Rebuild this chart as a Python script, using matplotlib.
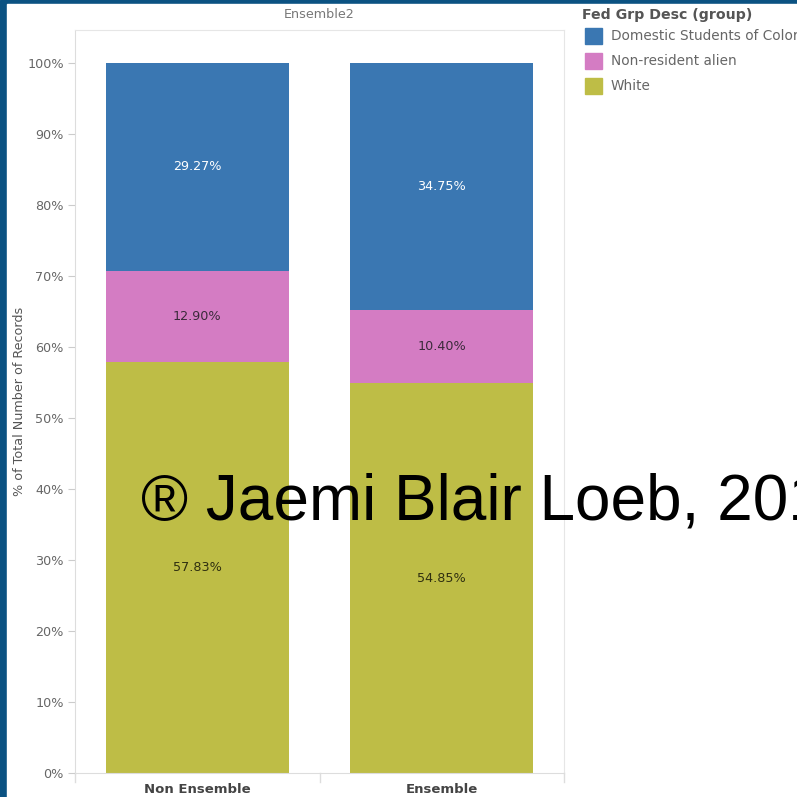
import matplotlib.pyplot as plt
from matplotlib.patches import Rectangle

categories = ["Non Ensemble", "Ensemble"]
groups = ["Domestic Students of Color", "Non-resident alien", "White"]
white = [57.83, 54.85]
non_resident = [12.90, 10.40]
domestic = [29.27, 34.75]
yticks = [0, 10, 20, 30, 40, 50, 60, 70, 80, 90, 100]

colors = {"Domestic Students of Color": "#3a77b2",
          "Non-resident alien": "#d47cc3",
          "White": "#bebd46"}
text_colors = {"Domestic Students of Color": "white",
               "Non-resident alien": "#3a2a3a",
               "White": "#2f2f10"}

plt.rcParams["font.family"] = ["DejaVu Sans"]

fig = plt.figure(figsize=(7.97, 7.97), dpi=100)
W, H = 797, 797

# dark frame on the left and top
fig.patches.append(Rectangle((0, 0), 1, 1, transform=fig.transFigure,
                             color="#0b5282", zorder=-2))
fig.patches.append(Rectangle((7 / W, 0), 1, 1 - 4 / H, transform=fig.transFigure,
                             color="white", zorder=-1))

left, right, bottom, top = 75, 564, 797 - 773, 797 - 30
ax = fig.add_axes([left / W, bottom / H, (right - left) / W, (top - bottom) / H])

x = range(len(categories))
series = [("White", white), ("Non-resident alien", non_resident),
          ("Domestic Students of Color", domestic)]
base = [0.0] * len(categories)
for name, vals in series:
    ax.bar(x, vals, bottom=base, width=0.75, color=colors[name], label=name, zorder=2)
    for i, v in enumerate(vals):
        ax.text(i, base[i] + v / 2, f"{v:.2f}%", ha="center", va="center",
                fontsize=9.2, color=text_colors[name], zorder=3)
    base = [b + v for b, v in zip(base, vals)]

ax.set_xlim(-0.5, 1.5)
ax.set_ylim(0, 104.6)
ax.set_yticks(yticks)
ax.set_yticklabels([f"{t}%" for t in yticks], fontsize=9.2, color="#666666")
ax.set_xticks(list(x))
ax.set_xticklabels(categories, fontsize=9.5, fontweight="bold", color="#444444")
ax.tick_params(axis="y", length=5, color="#cccccc", pad=3)
ax.tick_params(axis="x", length=0, pad=7)
# short separators below the axis between categories
for xs in [-0.5, 0.5, 1.5]:
    ax.plot([xs, xs], [0, -1.2], color="#dddddd", lw=1, clip_on=False, zorder=1)
for s in ["left", "bottom"]:
    ax.spines[s].set_color("#dddddd")
ax.spines["top"].set_color("#e6e6e6")
ax.spines["right"].set_color("#e6e6e6")
ax.set_ylabel("% of Total Number of Records", fontsize=9.2, color="#555555", labelpad=1)

fig.text((left + right) / 2 / W, 1 - 15 / H, "Ensemble2", ha="center", va="center",
         fontsize=9.2, color="#777777")

# legend
fig.text(582 / W, 1 - 15 / H, "Fed Grp Desc (group)", ha="left", va="center",
         fontsize=10.2, fontweight="bold", color="#555555")
for k, name in enumerate(groups):
    yc = 36 + k * 25
    fig.patches.append(Rectangle((585 / W, 1 - (yc + 8) / H), 17 / W, 16 / H,
                                 transform=fig.transFigure, color=colors[name]))
    fig.text(611 / W, 1 - yc / H, name, ha="left", va="center",
             fontsize=9.8, color="#666666")

# watermark (runs off the right edge, as in the original)
fig.text(141 / W, 1 - 519 / H, "\u00ae Jaemi Blair Loeb, 2019", ha="left", va="baseline",
         fontsize=46, color="black", zorder=10, family=["Liberation Sans"])

fig.savefig("out.png", dpi=100)
